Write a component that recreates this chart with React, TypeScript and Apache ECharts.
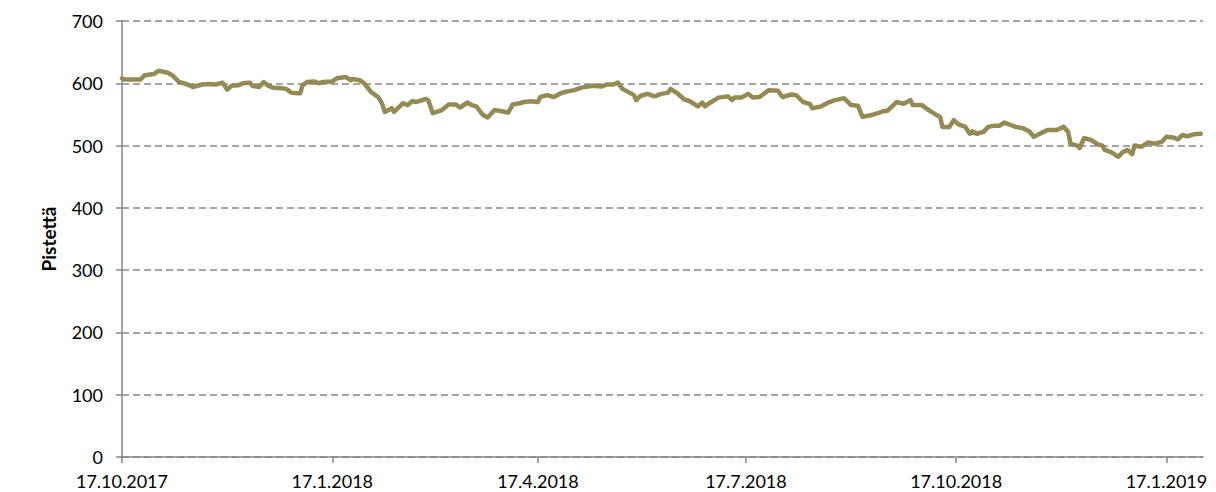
import React, { useEffect, useRef } from "react";
import * as echarts from "echarts";

const dates: string[] = [
  "2017-10-17","2017-10-18","2017-10-25","2017-10-27","2017-10-31","2017-11-02","2017-11-06","2017-11-08","2017-11-11","2017-11-14",
  "2017-11-17","2017-11-19","2017-11-21","2017-11-24","2017-11-27","2017-11-30","2017-12-02","2017-12-04","2017-12-07","2017-12-09",
  "2017-12-12","2017-12-13","2017-12-16","2017-12-18","2017-12-20","2017-12-22","2017-12-26","2017-12-28","2017-12-30","2018-01-02",
  "2018-01-03","2018-01-04","2018-01-06","2018-01-09","2018-01-11","2018-01-13","2018-01-17","2018-01-19","2018-01-23","2018-01-25",
  "2018-01-26","2018-01-29","2018-01-31","2018-02-03","2018-02-06","2018-02-07","2018-02-08","2018-02-09","2018-02-12","2018-02-13",
  "2018-02-17","2018-02-19","2018-02-21","2018-02-23","2018-02-27","2018-02-28","2018-03-02","2018-03-06","2018-03-09","2018-03-12",
  "2018-03-14","2018-03-17","2018-03-19","2018-03-21","2018-03-24","2018-03-26","2018-03-29","2018-04-04","2018-04-06","2018-04-09",
  "2018-04-11","2018-04-14","2018-04-17","2018-04-18","2018-04-21","2018-04-24","2018-04-27","2018-04-30","2018-05-03","2018-05-06",
  "2018-05-11","2018-05-15","2018-05-17","2018-05-20","2018-05-22","2018-05-24","2018-05-26","2018-05-29","2018-05-30","2018-06-01",
  "2018-06-04","2018-06-07","2018-06-10","2018-06-13","2018-06-14","2018-06-17","2018-06-20","2018-06-22","2018-06-26","2018-06-28",
  "2018-06-29","2018-07-01","2018-07-05","2018-07-09","2018-07-11","2018-07-12","2018-07-15","2018-07-18","2018-07-20","2018-07-23",
  "2018-07-27","2018-07-31","2018-08-02","2018-08-06","2018-08-08","2018-08-11","2018-08-14","2018-08-15","2018-08-19","2018-08-22",
  "2018-08-25","2018-08-29","2018-09-01","2018-09-04","2018-09-06","2018-09-10","2018-09-15","2018-09-17","2018-09-21","2018-09-24",
  "2018-09-27","2018-09-28","2018-10-02","2018-10-05","2018-10-08","2018-10-10","2018-10-11","2018-10-14","2018-10-16","2018-10-18",
  "2018-10-21","2018-10-23","2018-10-24","2018-10-26","2018-10-29","2018-10-31","2018-11-03","2018-11-05","2018-11-07","2018-11-10",
  "2018-11-12","2018-11-15","2018-11-18","2018-11-20","2018-11-22","2018-11-26","2018-11-30","2018-12-03","2018-12-05","2018-12-06",
  "2018-12-09","2018-12-10","2018-12-12","2018-12-15","2018-12-18","2018-12-20","2018-12-21","2018-12-24","2018-12-27","2018-12-29",
  "2018-12-31","2019-01-02","2019-01-03","2019-01-06","2019-01-09","2019-01-12","2019-01-15","2019-01-17","2019-01-20","2019-01-22",
  "2019-01-24","2019-01-26","2019-01-29","2019-02-01"
];

const values: number[] = [
  608,606,606,613,615,620,617,613,602,599,
  594,596,598,599,598,601,590,596,597,600,
  601,596,594,602,596,593,592,591,585,584,
  584,597,602,603,600,602,603,608,610,605,
  607,605,600,586,578,573,565,554,560,554,
  568,565,571,570,575,573,552,557,566,566,
  561,569,565,563,549,545,557,553,566,568,
  570,571,570,578,581,578,584,587,589,593,
  596,595,598,598,601,591,587,581,573,580,
  583,579,583,585,591,584,574,572,563,569,
  563,568,577,579,573,577,577,583,577,578,
  589,588,578,582,581,570,567,560,563,569,
  573,576,565,564,546,549,555,556,570,567,
  573,565,565,557,550,546,530,530,541,534,
  530,519,523,519,522,530,532,532,537,533,
  530,528,523,514,518,525,525,530,522,503,
  500,496,512,509,502,500,493,489,482,490,
  493,486,500,498,505,503,506,514,513,510,
  517,515,518,519
];

const tickDates: string[] = ["2017-10-17","2018-01-17","2018-04-17","2018-07-17","2018-10-17","2019-01-17"];
const yTicks: number[] = [0, 100, 200, 300, 400, 500, 600, 700];
const axisStart = "2017-10-17";
const axisEnd = "2019-02-02";
const yTitle = "Pistettä";

const ts = (s: string): number => {
  const [y, m, d] = s.split("-").map(Number);
  return Date.UTC(y, m - 1, d);
};

export default function App() {
  const ref = useRef<HTMLDivElement>(null);
  useEffect(() => {
    if (!ref.current) return;
    const chart = echarts.init(ref.current, null, { renderer: "svg" });
    const font = "Lato, 'Open Sans', sans-serif";
    const ticks = tickDates.map(ts);
    chart.setOption({
      animation: false,
      backgroundColor: "#ffffff",
      grid: { left: 122, top: 21, right: 13, bottom: 35, containLabel: false },
      xAxis: {
        type: "value",
        min: ts(axisStart),
        max: ts(axisEnd),
        axisLine: { show: true, lineStyle: { color: "#868686", width: 1.5 } },
        axisTick: {
          show: true,
          length: 6,
          lineStyle: { color: "#868686", width: 1.5 },
          customValues: ticks,
        },
        axisLabel: {
          customValues: ticks,
          color: "#000",
          fontFamily: font,
          fontSize: 18,
          lineHeight: 18,
          margin: 15,
          hideOverlap: false,
          showMinLabel: true,
          showMaxLabel: true,
          formatter: (v: number) => {
            const d = new Date(v);
            return `${d.getUTCDate()}.${d.getUTCMonth() + 1}.${d.getUTCFullYear()}`;
          },
        },
        splitLine: { show: false },
      },
      yAxis: {
        type: "value",
        min: yTicks[0],
        max: yTicks[yTicks.length - 1],
        interval: 100,
        name: yTitle,
        nameLocation: "middle",
        nameGap: 64,
        nameRotate: 90,
        nameTextStyle: { color: "#000", fontFamily: font, fontSize: 19, fontWeight: "bold" },
        axisLine: { show: true, lineStyle: { color: "#868686", width: 1.5 } },
        axisTick: { show: true, length: 6, lineStyle: { color: "#868686", width: 1.5 } },
        axisLabel: { color: "#000", fontFamily: font, fontSize: 18, margin: 19 },
        splitLine: { show: true, lineStyle: { color: "#868686", width: 1.5, type: [7, 4] } },
      },
      series: [
        {
          type: "line",
          data: dates.map((d, i) => [ts(d), values[i]]),
          showSymbol: false,
          symbol: "none",
          lineStyle: { color: "#948A54", width: 4.5, join: "round", cap: "round" },
        },
      ],
    });
    return () => chart.dispose();
  }, []);
  return (
    <div
      ref={ref}
      style={{ position: "fixed", left: 0, top: 0, width: 1216, height: 492 }}
    />
  );
}
